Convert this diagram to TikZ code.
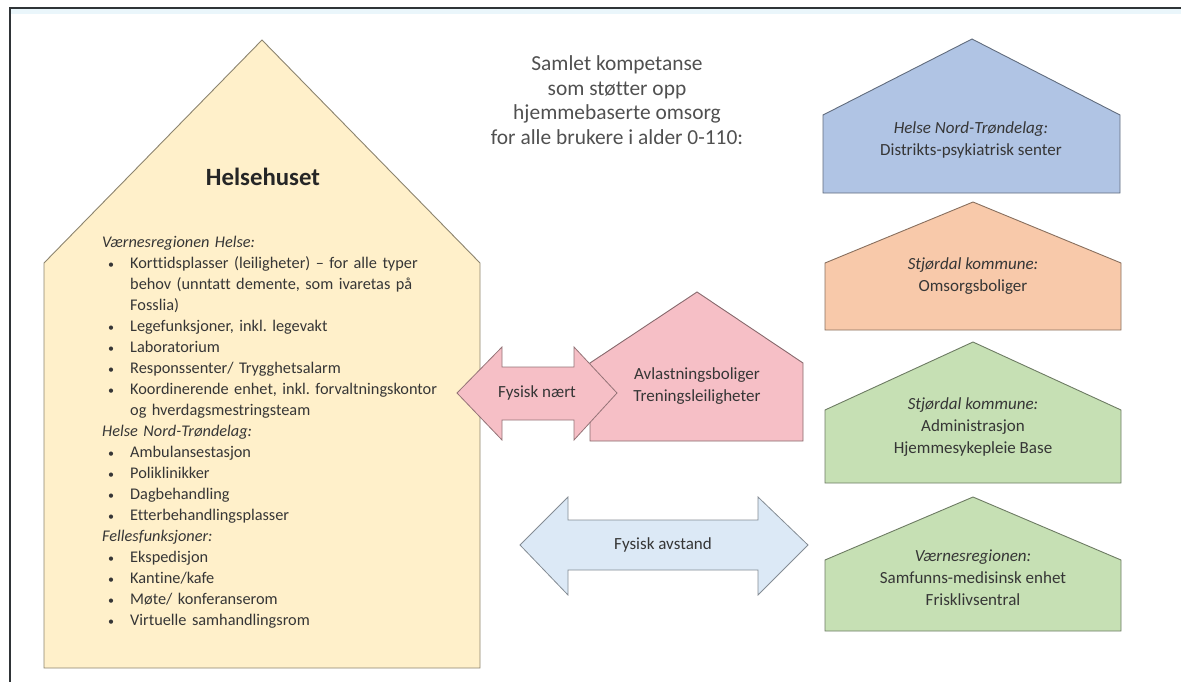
\documentclass[tikz,border=0pt]{standalone}
\usepackage{fontspec}
\setmainfont{Carlito}[Ligatures=NoCommon]
\usetikzlibrary{calc}
\usetikzlibrary{positioning}

\definecolor{helsefill}{HTML}{FFF0CA}
\definecolor{dpsfill}{HTML}{B0C4E4}
\definecolor{omsorgfill}{HTML}{F8C9AA}
\definecolor{kommfill}{HTML}{C6E0B4}
\definecolor{avlfill}{HTML}{F6BFC6}
\definecolor{avstandfill}{HTML}{DCE9F6}
\definecolor{textgrey}{HTML}{363636}
\definecolor{titlegrey}{HTML}{505050}
\definecolor{framegrey}{HTML}{2F3437}
\definecolor{stripblue}{HTML}{EAF6FB}

\newcommand{\bul}{\hspace*{6pt}\makebox[22pt][l]{\fontsize{12}{12}\selectfont\textbullet}}
\newcommand{\ind}{\hspace*{28pt}}
\frenchspacing

\begin{document}
\begin{tikzpicture}[x=1pt,y=-1pt,
    house/.style={draw=#1!55!black,fill=#1,line width=0.9pt,line join=miter},
    bigarrow/.style={draw=#1!60!black,fill=#1,line width=0.8pt,line join=miter},
    housetext/.style={align=center,text=textgrey,inner sep=0pt,font=\fontsize{17}{22}\selectfont},
    listtext/.style={align=left,text width=370pt,text=textgrey,inner sep=0pt,font=\fontsize{16.3}{21}\selectfont}]

  \useasboundingbox (0,0) rectangle (1181,682);

  % window frame
  \fill [stripblue] (11,9) rectangle (1181,14);
  \draw [framegrey,line width=1.6pt] (10,682) -- (10,8) -- (1181,8);

  % heading
  \node [align=center,text=titlegrey,inner sep=0pt,font=\fontsize{21.4}{24.6}\selectfont] (kompetanse) at (617,100)
    {Samlet kompetanse\\som støtter opp\\hjemmebaserte omsorg\\for alle brukere i alder 0-110:};

  % Helsehuset
  \draw [house=helsefill] (44,668) -- (44,263) -- (262,40) -- (480,263) -- (480,668) -- cycle;
  \node [text=black!85,font=\fontsize{24.8}{28}\selectfont\bfseries] (helsetitle) at (263,177) {Helsehuset};
  \node [listtext,anchor=north west] (helselist) at (102,236) {%
    \textit{Værnesregionen Helse:}\\
    \bul Korttidsplasser (leiligheter) -- for alle typer\\
    \ind behov (unntatt demente, som ivaretas på\\
    \ind Fosslia)\\
    \bul Legefunksjoner, inkl. legevakt\\
    \bul Laboratorium\\
    \bul Responssenter/ Trygghetsalarm\\
    \bul Koordinerende enhet, inkl. forvaltningskontor\\
    \ind og hverdagsmestringsteam\\
    \textit{Helse Nord-Trøndelag:}\\
    \bul Ambulansestasjon\\
    \bul Poliklinikker\\
    \bul Dagbehandling\\
    \bul Etterbehandlingsplasser\\
    \textit{Fellesfunksjoner:}\\
    \bul Ekspedisjon\\
    \bul Kantine/kafe\\
    \bul Møte/ konferanserom\\
    \bul Virtuelle samhandlingsrom};

  % right column
  \draw [house=dpsfill] (823,193) -- (823,115) -- (972,39) -- (1120,115) -- (1120,193) -- cycle;
  \node [housetext] (dpstext) at (971,140) {\textit{Helse Nord-Trøndelag:}\\Distrikts-psykiatrisk senter};

  \draw [house=omsorgfill] (825,330) -- (825,263) -- (973,202) -- (1121,263) -- (1121,330) -- cycle;
  \node [housetext] (omsorgtext) at (973,276) {\textit{Stjørdal kommune:}\\Omsorgsboliger};

  \draw [house=kommfill] (825,483) -- (825,410) -- (973,342) -- (1121,410) -- (1121,483) -- cycle;
  \node [housetext] (admintext) at (973,427) {\textit{Stjørdal kommune:}\\Administrasjon\\Hjemmesykepleie Base};

  \draw [house=kommfill] (825,631) -- (825,560) -- (973,497) -- (1121,560) -- (1121,631) -- cycle;
  \node [housetext] (samfunntext) at (973,578) {\textit{Værnesregionen:}\\Samfunns-medisinsk enhet\\Frisklivsentral};

  % middle
  \draw [house=avlfill] (590,441) -- (590,363) -- (697,292) -- (803,363) -- (803,441) -- cycle;
  \node [housetext] (avltext) at (697,386) {Avlastningsboliger\\Treningsleiligheter};

  \draw [bigarrow=avlfill] (457,393) -- (502,347) -- (502,367) -- (574,367) -- (574,347) -- (617,393)
    -- (574,440) -- (574,420) -- (502,420) -- (502,440) -- cycle;
  \node [housetext] (naertext) at (537,393) {Fysisk nært};

  \draw [bigarrow=avstandfill] (520,545) -- (568,497) -- (568,520) -- (758,520) -- (758,497) -- (808,545)
    -- (758,595) -- (758,570) -- (568,570) -- (568,595) -- cycle;
  \node [housetext] (avstandtext) at (663,545) {Fysisk avstand};

\end{tikzpicture}
\end{document}
